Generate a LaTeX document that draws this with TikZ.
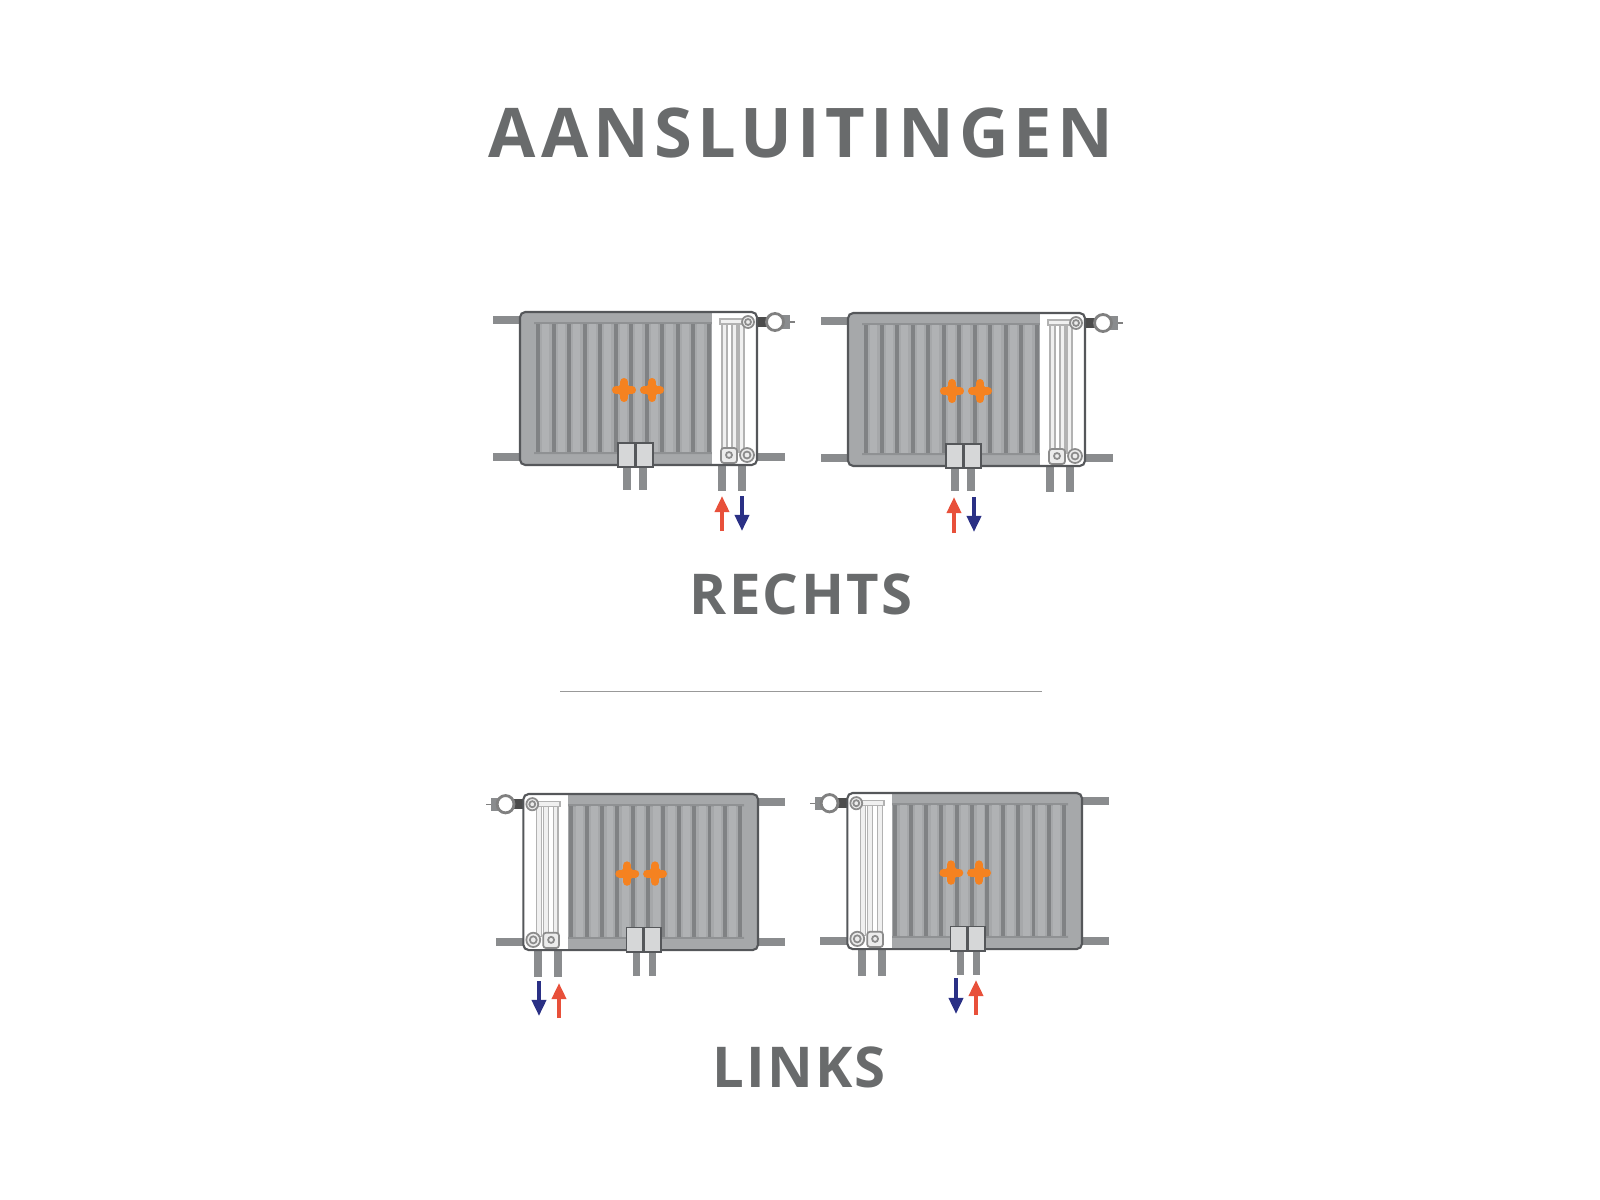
\documentclass[tikz,border=0pt]{standalone}
\usepackage{fontspec}
\usepackage{tikz}
\usetikzlibrary{arrows.meta}
\newfontfamily\headfont[LetterSpace=4]{Open Sans}
\newfontfamily\titlefont[LetterSpace=7.5]{Open Sans}

\definecolor{headgray}{HTML}{696B6C}
\definecolor{bodygray}{HTML}{A6A8AA}
\definecolor{ribgray}{HTML}{808284}
\definecolor{striplight}{HTML}{B0B2B4}
\definecolor{edgegray}{HTML}{55575A}
\definecolor{pipegray}{HTML}{8A8C8E}
\definecolor{boxgray}{HTML}{D6D7D8}
\definecolor{warmorange}{HTML}{F58220}
\definecolor{hotred}{HTML}{E8503A}
\definecolor{coldblue}{HTML}{2A3085}

\tikzset{
	headtext/.style={font=\fontsize{16}{20}\headfont\bfseries, text=headgray, inner sep=0pt},
	pipe/.style={draw=pipegray, line width=2.3pt},
	thinpipe/.style={draw=pipegray, line width=2pt},
	tube/.style={draw=gray!60, fill=gray!12, line width=0.3pt},
	valve/.style={draw=gray!90, fill=gray!15, line width=0.5pt},
	flowarrow/.style={line width=1.1pt, -{Triangle[length=4.6pt,width=4pt]}},
	warm/.style={draw=warmorange, line width=2.3pt, line cap=round}
}

% One radiator, valve side on the right of its own frame
\newcommand{\radiator}[1]{
	\begin{scope}[#1]
		% Draw wall brackets
		\draw[pipe] (-27,8) -- (0,8) (-27,145) -- (0,145) (237,145) -- (265,145);
		
		% Draw side and centre connections
		\draw[pipe] (202,153) -- (202,179) (222,153) -- (222,179);
		\draw[thinpipe] (107,153) -- (107,178) (123,153) -- (123,178);
		
		% Draw body
		\fill[bodygray, rounded corners=1.5pt] (0,0) rectangle (237,153);
		
		% Draw ribs
		\fill[ribgray!60!bodygray] (14,10) rectangle (192,12) (14,140) rectangle (192,142);
		\foreach \ribx in {18,33.5,...,190}{
			\fill[striplight] (\ribx+4,12) rectangle (\ribx+11,140);
			\fill[ribgray] (\ribx-2,12) rectangle (\ribx+2,140);
		}
		
		% Draw open valve side
		\fill[white, rounded corners=1.5pt] (192,1) rectangle (237,152);
		\fill[white] (192,1) rectangle (220,152);
		
		% Draw tubes behind the cover
		\draw[tube] (202,10) rectangle (207,140);
		\draw[tube] (212,10) rectangle (217,140);
		\draw[tube] (219,10) rectangle (224,140);
		\draw[tube] (200,7) rectangle (229,12);
		
		% Draw thermostat head
		\draw[draw=black!70, line width=2.9pt] (237,10) -- (248,10);
		\draw[draw=pipegray, line width=3.8pt] (260,10) -- (270,10);
		\draw[draw=gray, line width=0.4pt] (270,10) -- (275,10);
		\draw[draw=gray, fill=white, line width=0.8pt] (255,10) circle(8.5);
		
		% Draw valves
		\draw[valve] (228,10) circle(6);
		\draw[valve] (228,10) circle(3);
		\draw[valve] (227,143) circle(7);
		\draw[valve] (227,143) circle(3.5);
		\draw[valve, rounded corners=0.8pt] (201,136) rectangle (217,151);
		\draw[valve] (209,143) circle(3);
		
		% Draw body outline
		\draw[draw=edgegray, line width=0.6pt, rounded corners=1.5pt] (0,0) rectangle (237,153);
		
		% Draw centre boxes
		\draw[draw=edgegray, fill=boxgray, line width=0.4pt] (98,131) rectangle (115,155) (116,131) rectangle (133,155);
		
		% Draw warm air crosses
		\draw[warm] (96,78) -- (112,78) (104,70) -- (104,86);
		\draw[warm] (124,78) -- (140,78) (132,70) -- (132,86);
		\fill[warmorange] (104,78) circle(6.5) (132,78) circle(6.5);
	\end{scope}
}

\begin{document}
\begin{tikzpicture}[x=0.01cm,y=-0.01cm]
	\useasboundingbox (0,0) rectangle (1600,1200);
	
	% Draw titles
	\node[headtext, font=\fontsize{19.5}{24}\titlefont\bfseries] (title) at (801,133) {AANSLUITINGEN};
	\node[headtext] (rechts) at (801,594) {RECHTS};
	\node[headtext] (links) at (799,1067) {LINKS};
	
	% Draw divider
	\draw[draw=gray!80, line width=0.25pt] (560,691) -- (1042,691);
	
	% Draw radiators
	\radiator{shift={(520,312)}}
	\radiator{shift={(848,313)}}
	\radiator{shift={(758,794)}, xscale=-0.99, yscale=1.02}
	\radiator{shift={(1082,793)}, xscale=-0.99, yscale=1.02}
	
	% Draw supply and return arrows
	\draw[flowarrow, hotred] (722,531) -- (722,496);
	\draw[flowarrow, coldblue] (742,496) -- (742,531);
	\draw[flowarrow, hotred] (954,533) -- (954,497);
	\draw[flowarrow, coldblue] (974,497) -- (974,532);
	\draw[flowarrow, coldblue] (539,981) -- (539,1016);
	\draw[flowarrow, hotred] (559,1018) -- (559,983);
	\draw[flowarrow, coldblue] (956,978) -- (956,1014);
	\draw[flowarrow, hotred] (976,1015) -- (976,980);
\end{tikzpicture}
\end{document}
